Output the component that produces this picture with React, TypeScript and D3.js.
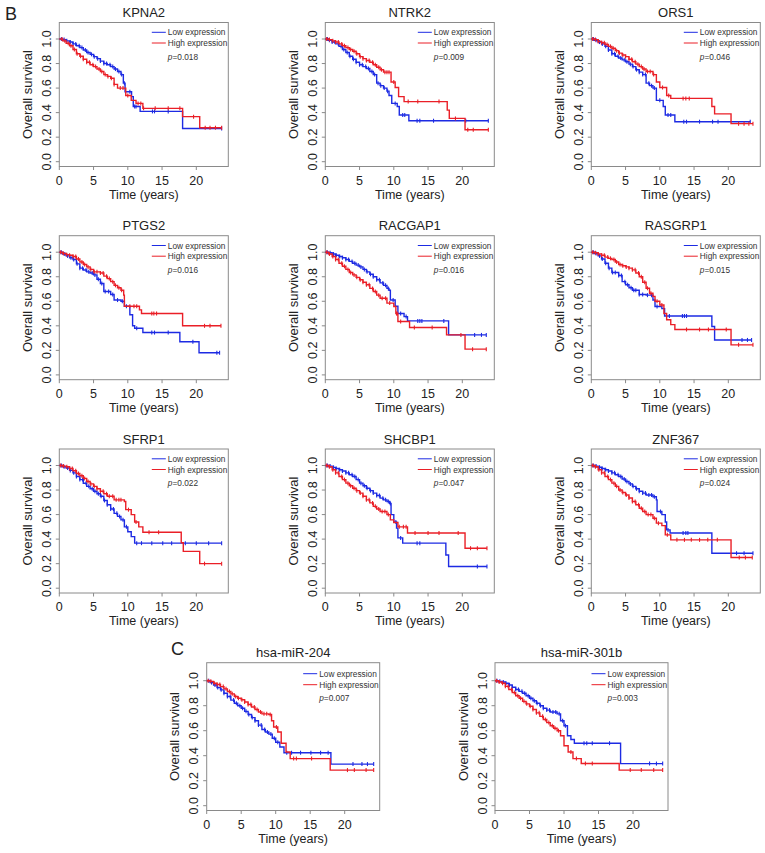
import React from "react";
import * as d3 from "d3";

type Pt = [number, number];

// ---------- data (time in years, survival probability) ----------
const KPNA2_LOW: Pt[] = [[0,1],[0.5,0.995],[1,0.985],[1.5,0.975],[2,0.96],[2.5,0.945],[3,0.93],[3.5,0.91],[4,0.89],[4.5,0.875],[5,0.856],[5.5,0.84],[6,0.82],[6.5,0.8],[7,0.79],[7.5,0.775],[8,0.755],[8.5,0.735],[9,0.71],[9.35,0.64],[9.6,0.57],[10.55,0.53],[10.8,0.45],[11.8,0.41],[18,0.27]];
const KPNA2_HIGH: Pt[] = [[0,1],[0.5,0.985],[1,0.965],[1.5,0.945],[2,0.915],[2.5,0.88],[3,0.86],[3.5,0.835],[4,0.81],[4.5,0.79],[5,0.775],[5.5,0.755],[6,0.735],[6.5,0.71],[7,0.695],[7.5,0.68],[8,0.63],[8.5,0.6],[9.7,0.54],[10.5,0.5],[11.2,0.475],[12.2,0.435],[18,0.367],[20.5,0.277]];
const KPNA2_LOW_CENS = [0.3,0.7,1.1,1.6,2.0,2.4,2.9,3.3,3.8,4.2,4.7,5.1,5.6,6.0,6.5,6.9,7.4,7.8,8.2,8.7,9.1,9.5,10.3,11.0,11.2,13.6,13.9,15.9,23.7];
const KPNA2_HIGH_CENS = [0.4,0.8,1.3,1.7,2.2,2.6,3.1,3.5,4.0,4.4,4.9,5.3,5.8,6.2,6.7,7.1,7.6,8.0,8.9,9.3,10.0,11.5,11.9,12.3,14.0,15.9,17.6,19.6,21.3,22.0,22.8,23.7];

const NTRK2_LOW: Pt[] = [[0,1],[0.5,0.99],[1,0.975],[1.5,0.96],[2,0.94],[2.5,0.915],[3,0.89],[3.5,0.86],[4,0.835],[4.5,0.81],[5,0.79],[5.5,0.775],[6,0.76],[6.5,0.735],[7,0.71],[7.5,0.64],[8,0.62],[8.5,0.6],[9,0.575],[9.3,0.54],[9.7,0.475],[10.5,0.45],[10.8,0.38],[12.2,0.334]];
const NTRK2_HIGH: Pt[] = [[0,1],[0.5,0.995],[1,0.985],[1.5,0.975],[2,0.96],[2.5,0.945],[3,0.93],[3.5,0.915],[4,0.9],[4.5,0.88],[5,0.856],[5.5,0.84],[6,0.825],[6.5,0.81],[7,0.79],[7.5,0.77],[8,0.75],[8.5,0.73],[9.6,0.65],[10.2,0.605],[10.7,0.53],[11.5,0.49],[17.8,0.42],[18.1,0.353],[20.4,0.26]];
const NTRK2_LOW_CENS = [0.3,0.6,1.0,1.4,1.9,2.3,2.7,3.2,3.6,4.1,4.5,5.0,5.4,5.9,6.3,6.8,7.2,7.7,8.1,8.6,9.1,10.2,11.3,11.6,13.4,13.8,15.8,20.5,23.8];
const NTRK2_HIGH_CENS = [0.2,0.6,1.1,1.5,1.9,2.4,2.8,3.3,3.7,4.2,4.6,5.1,5.5,6.0,6.4,6.9,7.3,7.8,8.2,8.7,9.0,9.3,10.0,12.1,13.5,16.6,19.0,20.8,21.6,23.8];

const ORS1_LOW: Pt[] = [[0,1],[0.5,0.99],[1,0.975],[1.5,0.96],[2,0.94],[2.5,0.91],[3,0.88],[3.5,0.86],[4,0.845],[4.5,0.83],[5,0.815],[5.5,0.795],[6,0.775],[6.5,0.75],[7,0.73],[7.5,0.71],[8,0.64],[8.5,0.62],[9,0.6],[9.5,0.5],[10.5,0.45],[10.8,0.38],[12.2,0.326]];
const ORS1_HIGH: Pt[] = [[0,1],[0.5,0.995],[1,0.98],[1.5,0.97],[2,0.955],[2.5,0.94],[3,0.925],[3.5,0.905],[4,0.885],[4.5,0.87],[5,0.856],[5.5,0.835],[6,0.815],[6.5,0.795],[7,0.775],[7.5,0.755],[8,0.735],[9,0.71],[9.5,0.65],[10,0.605],[11,0.54],[11.6,0.516],[17.6,0.45],[18,0.39],[20.4,0.31]];
const ORS1_LOW_CENS = [0.3,0.7,1.2,1.6,2.1,2.5,3.0,3.4,3.9,4.3,4.8,5.2,5.7,6.1,6.6,7.0,7.5,7.9,8.4,8.8,9.2,10.0,11.2,11.6,13.5,13.9,15.8,17.7,18.5,23.2];
const ORS1_HIGH_CENS = [0.2,0.6,1.0,1.5,1.9,2.3,2.8,3.2,3.7,4.1,4.6,5.0,5.5,5.9,6.4,6.8,7.3,7.7,8.2,8.6,9.1,10.4,11.3,13.4,13.8,14.3,21.5,22.3,23.0,23.6];

const PTGS2_LOW: Pt[] = [[0,1],[0.5,0.985],[1,0.97],[1.5,0.955],[2,0.94],[2.5,0.905],[3,0.87],[3.5,0.855],[4,0.84],[4.5,0.83],[5,0.815],[5.5,0.78],[6,0.745],[6.5,0.68],[7.5,0.655],[8,0.61],[9,0.6],[9.5,0.56],[10.3,0.49],[10.7,0.4],[11,0.38],[12.2,0.345],[17.6,0.27],[20.4,0.18]];
const PTGS2_HIGH: Pt[] = [[0,1],[0.5,0.99],[1,0.98],[1.5,0.975],[2,0.965],[2.5,0.945],[3,0.92],[3.5,0.9],[4,0.88],[4.5,0.86],[5,0.84],[6,0.83],[6.5,0.805],[7,0.785],[7.5,0.76],[8,0.73],[8.5,0.71],[9,0.69],[9.4,0.65],[9.5,0.56],[11.7,0.53],[12,0.5],[18,0.4]];
const PTGS2_LOW_CENS = [0.3,0.8,1.2,1.7,2.1,2.6,3.0,3.4,3.9,4.3,4.8,5.2,5.7,6.2,6.7,7.2,7.8,8.5,9.2,9.8,11.3,13.5,13.9,15.9,19.5,23.0,23.4];
const PTGS2_HIGH_CENS = [0.2,0.6,1.1,1.5,2.0,2.4,2.8,3.3,3.7,4.2,4.6,5.1,5.5,6.0,6.4,6.9,7.3,7.8,8.2,8.7,9.1,10.3,10.9,11.3,13.5,13.8,14.2,21.2,22.0,23.6];

const RACGAP1_LOW: Pt[] = [[0,1],[0.5,0.995],[1,0.985],[1.5,0.975],[2,0.965],[2.5,0.955],[3,0.94],[3.5,0.925],[4,0.91],[4.5,0.895],[5,0.88],[5.5,0.86],[6,0.84],[6.5,0.82],[7,0.8],[7.5,0.775],[8,0.75],[8.5,0.73],[9,0.705],[9.3,0.69],[9.5,0.61],[10.2,0.56],[10.6,0.5],[11.5,0.475],[12,0.44],[18,0.326]];
const RACGAP1_HIGH: Pt[] = [[0,1],[0.5,0.985],[1,0.965],[1.5,0.94],[2,0.91],[2.5,0.885],[3,0.86],[3.5,0.835],[4,0.815],[4.5,0.795],[5,0.775],[5.5,0.755],[6,0.735],[6.5,0.705],[7,0.68],[7.5,0.65],[8,0.625],[9,0.585],[10,0.557],[10.3,0.5],[10.6,0.435],[12.3,0.386],[17.7,0.326],[20.4,0.21]];
const RACGAP1_LOW_CENS = [0.3,0.7,1.2,1.6,2.1,2.5,3.0,3.4,3.9,4.3,4.8,5.2,5.7,6.1,6.6,7.0,7.5,7.9,8.4,8.8,9.2,9.9,11.0,11.8,13.5,13.8,14.1,17.3,21.8,22.8,23.5];
const RACGAP1_HIGH_CENS = [0.2,0.6,1.1,1.5,1.9,2.4,2.8,3.3,3.7,4.2,4.6,5.1,5.5,6.0,6.4,6.9,7.3,7.8,8.3,8.8,9.4,10.4,10.5,11.0,13.0,15.6,19.8,21.5,23.5];

const RASGRP1_LOW: Pt[] = [[0,1],[0.5,0.99],[1,0.97],[1.5,0.945],[2,0.91],[2.5,0.87],[3,0.835],[4,0.81],[4.5,0.76],[5,0.735],[5.5,0.71],[6,0.69],[7,0.655],[8,0.65],[9,0.61],[9.3,0.557],[10.3,0.54],[10.7,0.48],[17.6,0.394],[18,0.285]];
const RASGRP1_HIGH: Pt[] = [[0,1],[0.5,0.995],[1,0.985],[1.5,0.975],[2,0.96],[2.5,0.95],[3,0.94],[3.5,0.92],[4,0.9],[4.5,0.89],[5,0.88],[5.5,0.87],[6,0.856],[6.5,0.83],[7,0.8],[7.5,0.755],[8,0.706],[8.5,0.665],[9,0.64],[9.3,0.6],[10,0.57],[10.6,0.5],[11,0.45],[11.6,0.41],[12.2,0.37],[20.4,0.245]];
const RASGRP1_LOW_CENS = [0.3,0.7,1.2,1.6,2.1,2.6,3.1,3.5,4.0,4.4,4.9,5.3,5.8,6.2,6.5,7.0,7.5,8.2,8.8,9.6,11.4,13.3,13.6,13.9,22.0,22.8,23.4];
const RASGRP1_HIGH_CENS = [0.2,0.6,1.0,1.5,1.9,2.4,2.8,3.3,3.7,4.2,4.6,5.1,5.5,6.0,6.4,6.9,7.3,7.8,8.2,8.7,9.6,10.3,13.9,15.8,17.1,19.7,21.5,23.6];

const SFRP1_LOW: Pt[] = [[0,1],[0.5,0.99],[1,0.98],[1.5,0.96],[2,0.94],[2.5,0.91],[3,0.885],[3.5,0.855],[4,0.83],[4.5,0.81],[5,0.79],[5.5,0.77],[6,0.75],[6.5,0.715],[7,0.68],[7.5,0.645],[8,0.61],[8.5,0.585],[9,0.557],[9.5,0.5],[10,0.46],[10.5,0.42],[11,0.367]];
const SFRP1_HIGH: Pt[] = [[0,1],[0.5,0.995],[1,0.99],[1.5,0.975],[2,0.957],[2.5,0.935],[3,0.916],[3.5,0.895],[4,0.87],[4.5,0.85],[5,0.83],[5.5,0.81],[6,0.79],[6.5,0.77],[7,0.75],[8,0.72],[9.5,0.707],[9.7,0.64],[10.5,0.6],[11,0.54],[11.6,0.5],[12.2,0.456],[17.8,0.37],[18.1,0.3],[20.5,0.2]];
const SFRP1_LOW_CENS = [0.3,0.7,1.2,1.6,2.1,2.5,3.0,3.4,3.9,4.3,4.8,5.2,5.7,6.1,6.6,7.0,7.5,7.9,8.4,8.8,9.3,9.8,11.3,12.0,13.5,15.1,16.4,18.4,20.0,21.8,23.7];
const SFRP1_HIGH_CENS = [0.2,0.6,1.1,1.5,1.9,2.4,2.8,3.3,3.7,4.2,4.6,5.1,5.5,6.0,6.4,6.9,7.3,7.8,8.3,8.7,9.0,10.1,11.2,13.1,14.5,21.2,23.7];

const SHCBP1_LOW: Pt[] = [[0,1],[0.5,0.995],[1,0.985],[1.5,0.975],[2,0.965],[2.5,0.955],[3,0.94],[3.5,0.925],[4,0.91],[4.5,0.885],[5,0.856],[5.5,0.835],[6,0.815],[6.5,0.795],[7,0.775],[7.5,0.755],[8,0.734],[8.5,0.72],[9,0.706],[9.4,0.69],[9.6,0.6],[10,0.54],[10.4,0.49],[10.6,0.41],[11.3,0.367],[17.6,0.27],[18,0.177]];
const SHCBP1_HIGH: Pt[] = [[0,1],[0.5,0.99],[1,0.965],[1.5,0.94],[2,0.91],[2.5,0.885],[3,0.856],[3.5,0.835],[4,0.815],[4.5,0.795],[5,0.775],[5.5,0.75],[6,0.72],[6.5,0.695],[7,0.667],[7.5,0.645],[8,0.625],[9,0.6],[9.5,0.557],[10,0.535],[10.6,0.5],[12,0.45],[20.4,0.326]];
const SHCBP1_LOW_CENS = [0.3,0.7,1.2,1.6,2.1,2.5,3.0,3.4,3.9,4.3,4.8,5.2,5.7,6.1,6.6,7.0,7.5,7.9,8.4,8.8,9.2,9.5,10.3,11.0,13.4,13.8,22.2,23.6];
const SHCBP1_HIGH_CENS = [0.2,0.6,1.1,1.5,1.9,2.4,2.8,3.3,3.7,4.2,4.6,5.1,5.5,6.0,6.4,6.9,7.3,7.8,8.3,8.7,9.2,10.8,11.4,11.8,13.1,15.0,16.6,19.4,21.2,22.2,23.6];

const ZNF367_LOW: Pt[] = [[0,1],[0.5,0.995],[1,0.986],[1.5,0.975],[2,0.965],[2.5,0.955],[3,0.94],[3.5,0.925],[4,0.91],[4.5,0.89],[5,0.87],[5.5,0.85],[6,0.83],[6.5,0.81],[7,0.79],[7.5,0.775],[8,0.76],[9,0.745],[9.5,0.72],[9.6,0.625],[10.3,0.6],[10.8,0.54],[11,0.475],[11.5,0.45],[17.6,0.285]];
const ZNF367_HIGH: Pt[] = [[0,1],[0.5,0.99],[1,0.965],[1.5,0.94],[2,0.91],[2.5,0.885],[3,0.856],[3.5,0.83],[4,0.8],[4.5,0.78],[5,0.76],[5.5,0.735],[6,0.707],[6.5,0.68],[7,0.652],[7.5,0.625],[8,0.6],[9,0.57],[9.5,0.53],[10.3,0.51],[10.8,0.435],[11.6,0.394],[20.4,0.25]];
const ZNF367_LOW_CENS = [0.3,0.7,1.2,1.6,2.1,2.5,3.0,3.4,3.9,4.3,4.8,5.2,5.7,6.1,6.6,7.0,7.5,7.9,8.4,8.8,9.2,10.1,11.2,13.4,13.8,14.1,21.2,22.3,23.6];
const ZNF367_HIGH_CENS = [0.2,0.6,1.1,1.5,1.9,2.4,2.8,3.3,3.7,4.2,4.6,5.1,5.5,6.0,6.4,6.9,7.3,7.8,8.3,8.7,9.2,9.8,11.1,12.5,13.6,14.6,15.8,17.0,18.4,21.6,22.5,23.5];

const MIR204_LOW: Pt[] = [[0,1],[0.5,0.985],[1,0.966],[1.5,0.945],[2,0.927],[2.5,0.9],[3,0.874],[3.5,0.845],[4,0.82],[4.5,0.8],[5,0.78],[5.5,0.755],[6,0.73],[6.5,0.705],[7,0.68],[7.5,0.645],[8,0.61],[8.5,0.59],[9,0.573],[9.5,0.54],[10,0.508],[10.6,0.47],[11.2,0.424],[18,0.333]];
const MIR204_HIGH: Pt[] = [[0,1],[0.5,0.995],[1,0.98],[1.5,0.97],[2,0.953],[2.5,0.935],[3,0.914],[3.5,0.895],[4,0.874],[4.5,0.86],[5,0.848],[5.5,0.83],[6,0.81],[6.5,0.79],[7,0.77],[7.5,0.75],[8,0.735],[9,0.73],[9.4,0.68],[9.7,0.63],[10.3,0.59],[10.8,0.5],[11.5,0.43],[12.1,0.377],[17.9,0.285]];
const MIR204_LOW_CENS = [0.3,0.7,1.2,1.6,2.1,2.5,3.0,3.4,3.9,4.3,4.8,5.2,5.7,6.1,6.6,7.0,7.5,7.9,8.4,8.8,9.3,9.8,10.3,11.6,12.3,13.6,15.1,16.5,17.6,21.2,22.5,23.3,24.2];
const MIR204_HIGH_CENS = [0.2,0.6,1.1,1.5,1.9,2.4,2.8,3.3,3.7,4.2,4.6,5.1,5.5,6.0,6.4,6.9,7.3,7.8,8.3,8.7,9.2,10.1,12.6,13.0,15.2,20.4,21.4,23.1,24.2];

const MIR301B_LOW: Pt[] = [[0,1],[0.5,0.995],[1,0.99],[1.5,0.98],[2,0.966],[2.5,0.948],[3,0.93],[3.5,0.915],[4,0.9],[4.5,0.88],[5,0.86],[5.5,0.84],[6,0.82],[6.5,0.8],[7,0.78],[7.5,0.765],[8,0.75],[9,0.735],[9.5,0.68],[10,0.64],[10.5,0.56],[11,0.53],[11.5,0.5],[18.2,0.337]];
const MIR301B_HIGH: Pt[] = [[0,1],[0.5,0.99],[1,0.98],[1.5,0.955],[2,0.93],[2.5,0.905],[3,0.88],[3.5,0.86],[4,0.835],[4.5,0.815],[5,0.796],[5.5,0.77],[6,0.743],[6.5,0.715],[7,0.69],[7.5,0.665],[8,0.64],[8.5,0.62],[9,0.6],[9.5,0.56],[10,0.48],[10.6,0.43],[11.3,0.377],[12.5,0.338],[18,0.285]];
const MIR301B_LOW_CENS = [0.3,0.7,1.2,1.6,2.1,2.5,3.0,3.4,3.9,4.3,4.8,5.2,5.7,6.1,6.6,7.0,7.5,7.9,8.4,8.8,9.3,9.8,10.2,12.9,13.3,14.1,16.6,22.4,23.4,24.3];
const MIR301B_HIGH_CENS = [0.2,0.6,1.1,1.5,1.9,2.4,2.8,3.3,3.7,4.2,4.6,5.1,5.5,6.0,6.4,6.9,7.3,7.8,8.3,8.7,9.2,11.0,11.8,13.1,14.1,19.6,21.2,23.0,24.3];

const TITLES = ["KPNA2","NTRK2","ORS1","PTGS2","RACGAP1","RASGRP1","SFRP1","SHCBP1","ZNF367","hsa-miR-204","hsa-miR-301b"];
const P_VALUES = ["0.018","0.009","0.046","0.016","0.016","0.015","0.022","0.047","0.024","0.007","0.003"];
const LOW_CURVES = [KPNA2_LOW,NTRK2_LOW,ORS1_LOW,PTGS2_LOW,RACGAP1_LOW,RASGRP1_LOW,SFRP1_LOW,SHCBP1_LOW,ZNF367_LOW,MIR204_LOW,MIR301B_LOW];
const HIGH_CURVES = [KPNA2_HIGH,NTRK2_HIGH,ORS1_HIGH,PTGS2_HIGH,RACGAP1_HIGH,RASGRP1_HIGH,SFRP1_HIGH,SHCBP1_HIGH,ZNF367_HIGH,MIR204_HIGH,MIR301B_HIGH];
const LOW_CENS = [KPNA2_LOW_CENS,NTRK2_LOW_CENS,ORS1_LOW_CENS,PTGS2_LOW_CENS,RACGAP1_LOW_CENS,RASGRP1_LOW_CENS,SFRP1_LOW_CENS,SHCBP1_LOW_CENS,ZNF367_LOW_CENS,MIR204_LOW_CENS,MIR301B_LOW_CENS];
const HIGH_CENS = [KPNA2_HIGH_CENS,NTRK2_HIGH_CENS,ORS1_HIGH_CENS,PTGS2_HIGH_CENS,RACGAP1_HIGH_CENS,RASGRP1_HIGH_CENS,SFRP1_HIGH_CENS,SHCBP1_HIGH_CENS,ZNF367_HIGH_CENS,MIR204_HIGH_CENS,MIR301B_HIGH_CENS];
const LEGEND_LABELS = ["Low expression","High expression"];
const X_TICKS = [0,5,10,15,20];
const Y_TICKS = [0,0.2,0.4,0.6,0.8,1.0];

// ---------- layout ----------
const W = 765, H = 853;
const FONT = "'Liberation Sans', Arial, Helvetica, sans-serif";
const BLUE = "#1d2be3";
const RED = "#ea1f27";
const GRID_COL = "#8a8a8a";
const TEXT_COL = "#222";

type Layout = { left: number; y1: number; y0: number; boxW: number; pxPerYear: number; big: boolean };

function layoutFor(i: number): Layout {
  if (i < 9) {
    const col = i % 3, row = Math.floor(i / 3);
    const lefts = [59.3, 325.3, 591.3];
    const y1s = [39, 252.2, 465.5];
    return { left: lefts[col], y1: y1s[row], y0: y1s[row] + 122.7, boxW: 169, pxPerYear: 6.85, big: false };
  }
  const lefts = [206.7, 495];
  return { left: lefts[i - 9], y1: 680.7, y0: 680.7 + 125, boxW: 173, pxPerYear: 6.9, big: true };
}

function survAt(curve: Pt[], t: number) {
  let s = 1;
  for (const [tt, v] of curve) { if (tt <= t) s = v; else break; }
  return s;
}

function Panel({ i }: { i: number }) {
  const L = layoutFor(i);
  const x = d3.scaleLinear().domain([0, 20]).range([L.left, L.left + 20 * L.pxPerYear]);
  const y = d3.scaleLinear().domain([0, 1]).range([L.y0, L.y1]);
  const boxTop = L.y1 - (L.big ? 18 : 16.5);
  const boxBottom = L.y0 + 4.8;
  const boxRight = L.left + L.boxW;
  const cx = (L.left + boxRight) / 2;
  const midY = (boxTop + boxBottom) / 2;
  const line = d3.line<Pt>().x(d => x(d[0])).y(d => y(d[1])).curve(d3.curveStepAfter);

  const series = [
    { curve: LOW_CURVES[i], cens: LOW_CENS[i], color: BLUE },
    { curve: HIGH_CURVES[i], cens: HIGH_CENS[i], color: RED },
  ];

  const legY = L.big ? [boxTop + 11, boxTop + 22, boxTop + 35.5] : [boxTop + 9.8, boxTop + 20.5, boxTop + 34];
  const legX0 = boxRight - 76.5;

  return (
    <g>
      <text x={cx} y={boxTop - 5.5} textAnchor="middle" fontSize={13} fill={TEXT_COL} fontFamily={FONT}>{TITLES[i]}</text>
      <rect x={L.left} y={boxTop} width={L.boxW} height={boxBottom - boxTop} fill="none" stroke={GRID_COL} strokeWidth={1} />
      {/* y axis */}
      {Y_TICKS.map(t => (
        <g key={"y" + t}>
          <line x1={L.left - 3.5} x2={L.left} y1={y(t)} y2={y(t)} stroke={GRID_COL} strokeWidth={1} />
          <text transform={`translate(${L.left - 12.5},${y(t)}) rotate(-90)`} textAnchor="middle" dominantBaseline="central" fontSize={12.5} fill={TEXT_COL} fontFamily={FONT}>{t.toFixed(1)}</text>
        </g>
      ))}
      <text transform={`translate(${L.left - 32},${midY}) rotate(-90)`} textAnchor="middle" dominantBaseline="central" fontSize={13} fill={TEXT_COL} fontFamily={FONT}>Overall survival</text>
      {/* x axis */}
      {X_TICKS.map(t => (
        <g key={"x" + t}>
          <line x1={x(t)} x2={x(t)} y1={boxBottom} y2={boxBottom + 3.5} stroke={GRID_COL} strokeWidth={1} />
          <text x={x(t)} y={boxBottom + 14.3} textAnchor="middle" dominantBaseline="central" fontSize={12.5} fill={TEXT_COL} fontFamily={FONT}>{t}</text>
        </g>
      ))}
      <text x={cx} y={boxBottom + 28} textAnchor="middle" dominantBaseline="central" fontSize={12.5} fill={TEXT_COL} fontFamily={FONT}>Time (years)</text>
      {/* curves */}
      {series.map((s, k) => {
        const tEnd = d3.max(s.cens) as number;
        const pts: Pt[] = [...s.curve, [tEnd, s.curve[s.curve.length - 1][1]]];
        return (
          <g key={k}>
            <path d={line(pts) || ""} fill="none" stroke={s.color} strokeWidth={1.4} />
            {s.cens.map((c, j) => (
              <line key={j} x1={x(c)} x2={x(c)} y1={y(survAt(s.curve, c)) - 2} y2={y(survAt(s.curve, c)) + 2} stroke={s.color} strokeWidth={1.1} />
            ))}
          </g>
        );
      })}
      {/* legend */}
      {[BLUE, RED].map((c, k) => (
        <g key={"l" + k}>
          <line x1={legX0} x2={legX0 + 14} y1={legY[k]} y2={legY[k]} stroke={c} strokeWidth={1} />
          <text x={legX0 + 16} y={legY[k]} dominantBaseline="central" fontSize={8.3} fill="#333" fontFamily={FONT}>{LEGEND_LABELS[k]}</text>
        </g>
      ))}
      <text x={legX0 + 16} y={legY[2]} dominantBaseline="central" fontSize={8.3} fill="#333" fontFamily={FONT}>
        <tspan fontStyle="italic">p</tspan>={P_VALUES[i]}
      </text>
    </g>
  );
}

export default function App() {
  return (
    <svg width={W} height={H} viewBox={`0 0 ${W} ${H}`} style={{ position: "absolute", left: 0, top: 0, background: "#fff" }}>
      <rect width={W} height={H} fill="#fff" />
      <text x={5} y={20} fontSize={18} fill={TEXT_COL} fontFamily={FONT}>B</text>
      <text x={171} y={655} fontSize={18} fill={TEXT_COL} fontFamily={FONT}>C</text>
      {TITLES.map((_, i) => <Panel key={i} i={i} />)}
    </svg>
  );
}
